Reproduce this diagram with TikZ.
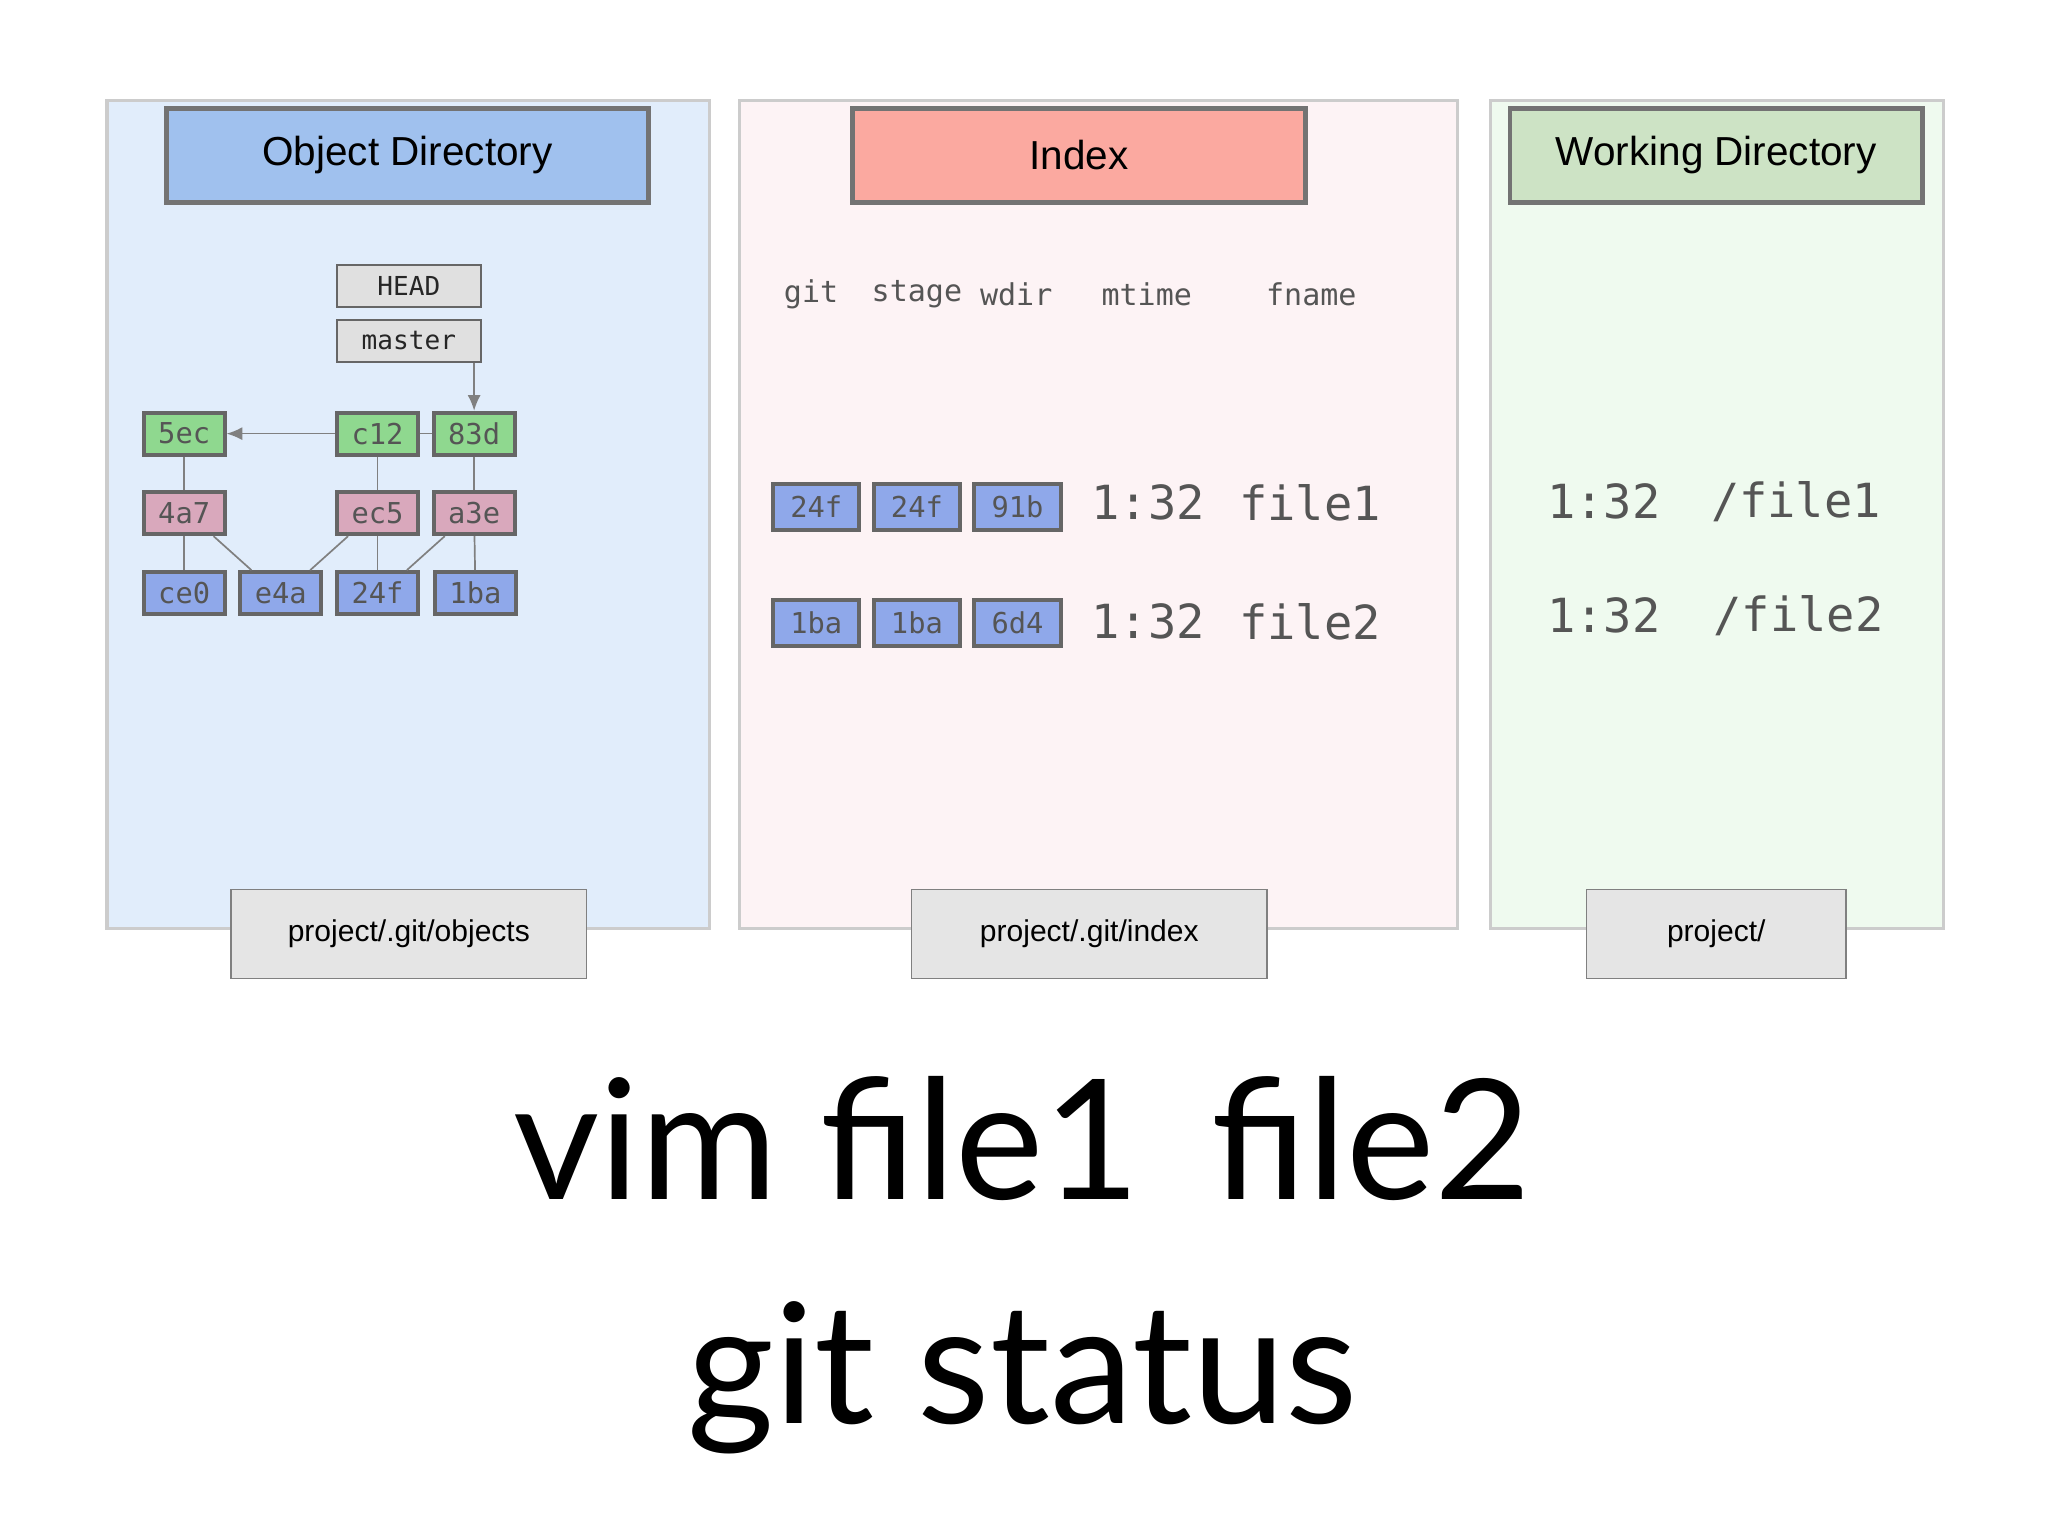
\documentclass[tikz,border=0pt]{standalone}
\usepackage{fontspec}
\usetikzlibrary{arrows.meta}
\setmainfont{Liberation Sans}
\newfontfamily\monofont{DejaVu Sans Mono}
\newfontfamily\bigfont{Lato}
\definecolor{objbg}{HTML}{E1EDFB}
\definecolor{objhd}{HTML}{A0C1EE}
\definecolor{idxbg}{HTML}{FDF3F5}
\definecolor{idxhd}{HTML}{FBA9A0}
\definecolor{wrkbg}{HTML}{EFFAEF}
\definecolor{wrkhd}{HTML}{CDE3C5}
\definecolor{cmt}{HTML}{8FD88F}
\definecolor{tre}{HTML}{D9A8BC}
\definecolor{blb}{HTML}{8FA8EA}
\definecolor{txt}{HTML}{555555}
\tikzset{
  panel/.style = {draw=black!20, line width=2.5pt},
  header/.style = {draw=black!55, line width=3.5pt, font=\fontsize{31}{31}\selectfont},
  pathbox/.style = {draw=black!50, line width=1.2pt, fill=black!10, font=\fontsize{23}{23}\selectfont},
  obj/.style = {draw=black!60, line width=3pt, minimum width=62pt, minimum height=32pt,
    inner sep=0pt, text=txt, font=\monofont\fontsize{22}{22}\selectfont},
  ref/.style = {draw=black!60, line width=1.5pt, fill=black!12, minimum width=110pt,
    minimum height=32pt, inner sep=0pt, text=black!85, font=\monofont\fontsize{20}{20}\selectfont},
  link/.style = {draw=black!50, line width=1.3pt},
  col/.style = {text=txt, font=\monofont\fontsize{23}{23}\selectfont},
  entry/.style = {text=txt, font=\monofont\fontsize{36}{36}\selectfont},
  command/.style = {font=\bigfont\fontsize{128}{128}\selectfont}
}
\begin{document}
\begin{tikzpicture}[x=1pt,y=-1pt]
  \useasboundingbox[fill=white] (0,0) rectangle (1568,1176);
  % panels
  \draw[panel, fill=objbg] (82,77) rectangle (543,711);
  \draw[panel, fill=idxbg] (566,77) rectangle (1116,711);
  \draw[panel, fill=wrkbg] (1141,77) rectangle (1488,711);
  \node[header, fill=objhd, minimum width=369pt, minimum height=72pt] (objhead) at (312,119) {Object Directory};
  \node[header, fill=idxhd, minimum width=347pt, minimum height=72pt] (idxhead) at (826,119) {Index};
  \node[header, fill=wrkhd, minimum width=316pt, minimum height=72pt] (wrkhead) at (1314,119) {Working Directory};
  \node[pathbox, minimum width=272pt, minimum height=68pt] (objpath) at (313,715) {project/.git/objects};
  \node[pathbox, minimum width=272pt, minimum height=68pt] (idxpath) at (834,715) {project/.git/index};
  \node[pathbox, minimum width=199pt, minimum height=68pt] (wrkpath) at (1314,715) {project/};

  % object graph
  \node[ref] (head) at (313,219) {HEAD};
  \node[ref] (master) at (313,261) {master};
  \node[obj, fill=cmt] (c5ec) at (141,332) {5ec};
  \node[obj, fill=cmt] (c12) at (289,332) {c12};
  \node[obj, fill=cmt] (c83d) at (363,332) {83d};
  \node[obj, fill=tre] (t4a7) at (141,393) {4a7};
  \node[obj, fill=tre] (tec5) at (289,393) {ec5};
  \node[obj, fill=tre] (ta3e) at (363,393) {a3e};
  \node[obj, fill=blb] (bce0) at (141,454) {ce0};
  \node[obj, fill=blb] (be4a) at (215,454) {e4a};
  \node[obj, fill=blb] (b24f) at (289,454) {24f};
  \node[obj, fill=blb] (b1ba) at (364,454) {1ba};
  \draw[link, -{Latex[length=12pt,width=10pt]}] (master.south -| c83d) -- (c83d);
  \draw[link, -{Latex[length=12pt,width=10pt]}] (c12) -- (c5ec);
  \draw[link] (c83d) -- (c12);
  \draw[link] (c5ec) -- (t4a7);
  \draw[link] (c12) -- (tec5);
  \draw[link] (c83d) -- (ta3e);
  \draw[link] (t4a7) -- (bce0);
  \draw[link] (t4a7.south east) ++(-10,0) -- ([xshift=10pt]be4a.north west);
  \draw[link] (tec5.south west) ++(10,0) -- ([xshift=-10pt]be4a.north east);
  \draw[link] (tec5) -- (b24f);
  \draw[link] (ta3e.south west) ++(10,0) -- ([xshift=-10pt]b24f.north east);
  \draw[link] (ta3e) -- (b1ba);

  % index
  \node[col] (hgit) at (621,225) {git};
  \node[col] (hstage) at (702,225) {stage};
  \node[col] (hwdir) at (778,225) {wdir};
  \node[col] (hmtime) at (878,225) {mtime};
  \node[col] (hfname) at (1004,225) {fname};
  \node[obj, fill=blb, minimum width=66pt, minimum height=35pt] (iagit) at (625,388) {24f};
  \node[obj, fill=blb, minimum width=66pt, minimum height=35pt] (iastage) at (702,388) {24f};
  \node[obj, fill=blb, minimum width=66pt, minimum height=35pt] (iawdir) at (779,388) {91b};
  \node[entry] (iatime) at (879,385) {1:32};
  \node[entry] (ianame) at (1003,385) {file1};
  \node[obj, fill=blb, minimum width=66pt, minimum height=35pt] (ibgit) at (625,477) {1ba};
  \node[obj, fill=blb, minimum width=66pt, minimum height=35pt] (ibstage) at (702,477) {1ba};
  \node[obj, fill=blb, minimum width=66pt, minimum height=35pt] (ibwdir) at (779,477) {6d4};
  \node[entry] (ibtime) at (879,476) {1:32};
  \node[entry] (ibname) at (1003,476) {file2};

  % working directory
  \node[entry] (watime) at (1228,384) {1:32};
  \node[entry] (waname) at (1375,384) {/file1};
  \node[entry] (wbtime) at (1228,471) {1:32};
  \node[entry] (wbname) at (1377,471) {/file2};

  % commands
  \node[command] (cmdvim) at (783,872) {vim file1\, file2};
  \node[command] (cmdgit) at (783,1055) {git status};
\end{tikzpicture}
\end{document}
